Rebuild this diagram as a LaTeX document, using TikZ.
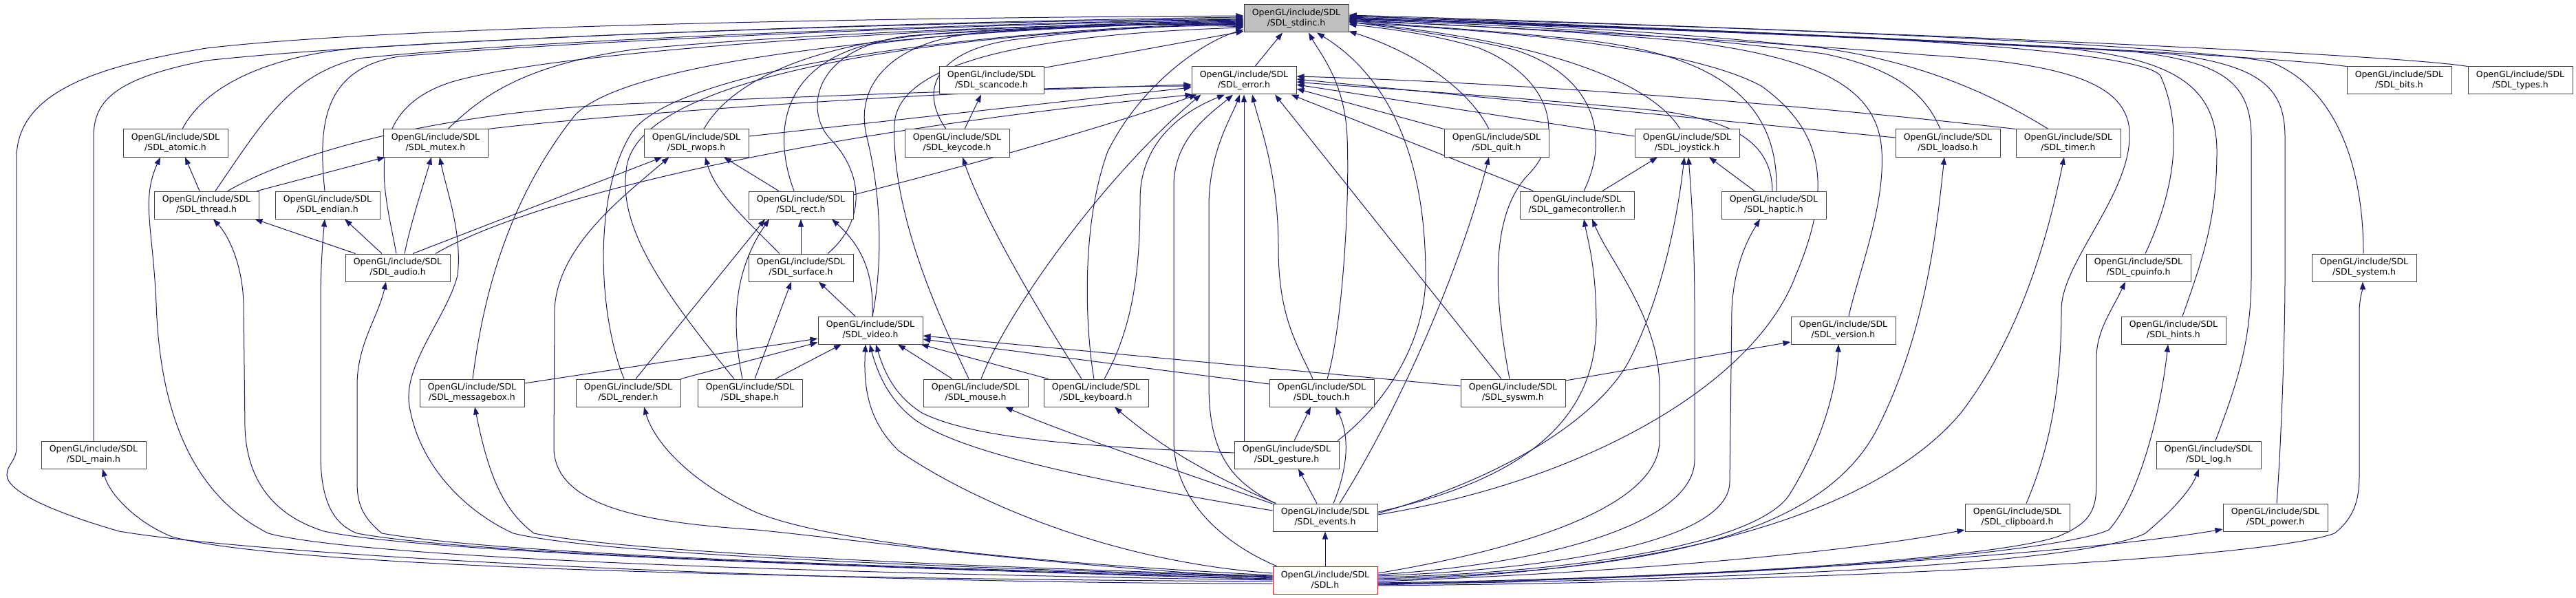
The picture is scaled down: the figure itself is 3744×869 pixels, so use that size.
\documentclass[tikz,border=0pt]{standalone}
\usepackage{fontspec}
\newfontfamily\djv{DejaVu Sans}
\usetikzlibrary{arrows.meta,calc}
\pgfdeclarelayer{bg}
\pgfsetlayers{bg,main}
\definecolor{edgec}{HTML}{191970}
\definecolor{nodeb}{HTML}{404040}
\begin{document}
\begin{tikzpicture}[x=1pt,y=-1pt,
  box/.style={draw=nodeb,line width=1pt,fill=white,minimum width=152pt,minimum height=40pt,inner sep=0pt,align=center,font=\djv\fontsize{12.5}{15}\selectfont},
  e/.style={draw=edgec,line width=1pt,-{Triangle[length=11pt,width=8pt]}}]
\useasboundingbox (0,0) rectangle (3744,869);
\node[box,fill=black!25] (stdinc) at (1884,27) {OpenGL/include/SDL\\/SDL\_stdinc.h};
\node[box] (error) at (1808,117) {OpenGL/include/SDL\\/SDL\_error.h};
\node[box] (scancode) at (1441,117) {OpenGL/include/SDL\\/SDL\_scancode.h};
\node[box] (bits) at (3487,117) {OpenGL/include/SDL\\/SDL\_bits.h};
\node[box] (types) at (3663,117) {OpenGL/include/SDL\\/SDL\_types.h};
\node[box] (atomic) at (255,208) {OpenGL/include/SDL\\/SDL\_atomic.h};
\node[box] (mutex) at (633,208) {OpenGL/include/SDL\\/SDL\_mutex.h};
\node[box] (rwops) at (1012,208) {OpenGL/include/SDL\\/SDL\_rwops.h};
\node[box] (keycode) at (1391,208) {OpenGL/include/SDL\\/SDL\_keycode.h};
\node[box] (quit) at (2175,208) {OpenGL/include/SDL\\/SDL\_quit.h};
\node[box] (joystick) at (2452,208) {OpenGL/include/SDL\\/SDL\_joystick.h};
\node[box] (loadso) at (2831,208) {OpenGL/include/SDL\\/SDL\_loadso.h};
\node[box] (timer) at (3006,208) {OpenGL/include/SDL\\/SDL\_timer.h};
\node[box] (thread) at (300,298) {OpenGL/include/SDL\\/SDL\_thread.h};
\node[box] (endian) at (476,298) {OpenGL/include/SDL\\/SDL\_endian.h};
\node[box] (rect) at (1164,298) {OpenGL/include/SDL\\/SDL\_rect.h};
\node[box,minimum width=166pt] (gamecontroller) at (2292,298) {OpenGL/include/SDL\\/SDL\_gamecontroller.h};
\node[box] (haptic) at (2578,298) {OpenGL/include/SDL\\/SDL\_haptic.h};
\node[box] (audio) at (578,389) {OpenGL/include/SDL\\/SDL\_audio.h};
\node[box] (surface) at (1164,389) {OpenGL/include/SDL\\/SDL\_surface.h};
\node[box] (cpuinfo) at (3108,389) {OpenGL/include/SDL\\/SDL\_cpuinfo.h};
\node[box] (system) at (3436,389) {OpenGL/include/SDL\\/SDL\_system.h};
\node[box] (video) at (1265,480) {OpenGL/include/SDL\\/SDL\_video.h};
\node[box] (version) at (2679,480) {OpenGL/include/SDL\\/SDL\_version.h};
\node[box] (hints) at (3159,480) {OpenGL/include/SDL\\/SDL\_hints.h};
\node[box] (messagebox) at (686,571) {OpenGL/include/SDL\\/SDL\_messagebox.h};
\node[box] (render) at (913,571) {OpenGL/include/SDL\\/SDL\_render.h};
\node[box] (shape) at (1090,571) {OpenGL/include/SDL\\/SDL\_shape.h};
\node[box] (mouse) at (1418,571) {OpenGL/include/SDL\\/SDL\_mouse.h};
\node[box] (keyboard) at (1593,571) {OpenGL/include/SDL\\/SDL\_keyboard.h};
\node[box] (touch) at (1921,571) {OpenGL/include/SDL\\/SDL\_touch.h};
\node[box] (syswm) at (2199,571) {OpenGL/include/SDL\\/SDL\_syswm.h};
\node[box] (main) at (136,661) {OpenGL/include/SDL\\/SDL\_main.h};
\node[box] (gesture) at (1870,661) {OpenGL/include/SDL\\/SDL\_gesture.h};
\node[box] (log) at (3210,661) {OpenGL/include/SDL\\/SDL\_log.h};
\node[box] (events) at (1926,752) {OpenGL/include/SDL\\/SDL\_events.h};
\node[box] (clipboard) at (2932,752) {OpenGL/include/SDL\\/SDL\_clipboard.h};
\node[box] (power) at (3307,752) {OpenGL/include/SDL\\/SDL\_power.h};
\node[box,draw=red] (sdl) at (1926,843) {OpenGL/include/SDL\\/SDL.h};
\begin{pgfonlayer}{bg}
% ---- into stdinc, from the left
\draw[e] ($(sdl.west)+(0,5)$) .. controls (1200,848) and (400,810) .. (173,772) .. controls (80,745) and (10,715) .. (10,690) .. controls (10,675) and (24,670) .. (24,650) -- (24,230) .. controls (24,130) and (150,95) .. (300,70) .. controls (600,35) and (1400,25) .. ($(stdinc.west)+(0,-4)$);
\draw[e] (main.north) -- (136,200) .. controls (136,150) and (160,115) .. (300,88) .. controls (600,55) and (1400,30) .. ($(stdinc.west)+(0,-2)$);
\draw[e] ($(atomic.north)+(10,0)$) .. controls (300,120) and (400,80) .. (520,70) .. controls (900,45) and (1500,30) .. ($(stdinc.west)+(0,0)$);
\draw[e] ($(thread.north)+(13,0)$) .. controls (380,180) and (420,110) .. (520,85) .. controls (800,55) and (1500,32) .. ($(stdinc.west)+(0,1)$);
\draw[e] ($(endian.north)+(-4,0)$) .. controls (462,180) and (470,100) .. (580,82) .. controls (900,55) and (1500,33) .. ($(stdinc.west)+(0,2)$);
\draw[e] ($(audio.north)+(-2,0)$) .. controls (560,280) and (520,160) .. (660,118) .. controls (850,65) and (1500,35) .. ($(stdinc.west)+(0,3)$);
\draw[e] ($(mutex.north)+(18,0)$) .. controls (700,140) and (760,95) .. (920,72) .. controls (1200,45) and (1600,35) .. ($(stdinc.west)+(0,4)$);
\draw[e] ($(messagebox.north)+(1,0)$) .. controls (700,450) and (730,300) .. (836,167) .. controls (920,80) and (1400,40) .. ($(stdinc.west)+(0,5)$);
\draw[e] ($(render.north)+(-6,0)$) .. controls (870,460) and (860,280) .. (920,190) .. controls (990,100) and (1400,45) .. ($(stdinc.west)+(0,6)$);
\draw[e] ($(shape.north)+(-23,0)$) .. controls (960,420) and (900,330) .. (910,250) .. controls (915,120) and (1300,50) .. ($(stdinc.west)+(0,7)$);
\draw[e] ($(rwops.north)+(11,0)$) .. controls (1055,130) and (1150,70) .. (1350,50) .. controls (1550,38) and (1700,33) .. ($(stdinc.west)+(0,8)$);
\draw[e] ($(rect.north)+(-10,0)$) .. controls (1125,200) and (1130,100) .. (1260,65) .. controls (1450,40) and (1650,33) .. ($(stdinc.west)+(0,9)$);
\draw[e] ($(surface.north)+(39,0)$) .. controls (1260,320) and (1255,250) .. (1205,200) .. controls (1170,160) and (1180,70) .. (1320,52) .. controls (1500,38) and (1700,32) .. ($(stdinc.west)+(0,10)$);
\draw[e] ($(video.north)+(3,0)$) .. controls (1280,400) and (1285,300) .. (1260,200) .. controls (1240,120) and (1300,60) .. (1420,48) .. controls (1600,36) and (1720,32) .. ($(stdinc.west)+(0,11)$);
\draw[e] ($(keycode.north)+(-16,0)$) .. controls (1335,130) and (1360,75) .. (1470,58) .. controls (1600,42) and (1720,35) .. ($(stdinc.west)+(0,12)$);
\draw[e] ($(scancode.north east)+(0,2)$) -- ($(stdinc.south west)+(0,-2)$);
\draw[e] ($(mouse.north)+(-10,0)$) .. controls (1375,480) and (1295,320) .. (1300,180) .. controls (1305,90) and (1500,50) .. ($(stdinc.west)+(0,13)$);
\draw[e] ($(keyboard.north)+(-3,0)$) .. controls (1578,480) and (1570,330) .. (1610,220) .. controls (1660,120) and (1750,60) .. ($(stdinc.west)+(0,16)$);
% ---- into stdinc, from below and right
\draw[e] ($(error.north)+(16,0)$) -- ($(stdinc.south)+(-20,0)$);
\draw[e] ($(touch.north)+(8,0)$) .. controls (1950,480) and (1962,300) .. (1958,200) .. controls (1955,120) and (1920,80) .. ($(stdinc.south)+(18,0)$);
\draw[e] ($(gesture.north)+(74,0)$) .. controls (2010,590) and (2072,500) .. (2072,400) .. controls (2072,200) and (2000,100) .. ($(stdinc.south)+(30,0)$);
\draw[e] ($(quit.north)+(-11,0)$) .. controls (2130,120) and (2040,70) .. ($(stdinc.south east)+(0,-2)$);
\draw[e] ($(events.east)+(0,-4)$) .. controls (2300,700) and (2550,560) .. (2610,400) .. controls (2665,270) and (2650,190) .. (2560,125) .. controls (2440,60) and (2100,40) .. ($(stdinc.east)+(0,6)$);
\draw[e] ($(joystick.north)+(-10,0)$) .. controls (2400,120) and (2250,60) .. ($(stdinc.east)+(0,5)$);
\draw[e] ($(gamecontroller.north)+(10,0)$) .. controls (2340,200) and (2320,110) .. (2200,72) .. controls (2100,48) and (2000,38) .. ($(stdinc.east)+(0,4)$);
\draw[e] ($(haptic.north)+(4,0)$) .. controls (2585,150) and (2500,80) .. (2300,58) .. controls (2150,42) and (2000,34) .. ($(stdinc.east)+(0,3)$);
\draw[e] ($(syswm.north)+(-5,0)$) .. controls (2175,450) and (2160,320) .. (2220,255) .. controls (2280,195) and (2250,110) .. (2150,70) .. controls (2080,48) and (2000,40) .. ($(stdinc.east)+(0,8)$);
\draw[e] ($(loadso.north)+(-11,0)$) .. controls (2800,140) and (2760,100) .. (2650,78) .. controls (2400,45) and (2100,32) .. ($(stdinc.east)+(0,2)$);
\draw[e] ($(timer.north)+(-29,0)$) .. controls (2900,140) and (2800,92) .. (2650,70) .. controls (2400,42) and (2100,30) .. ($(stdinc.east)+(0,1)$);
\draw[e] ($(version.north)+(8,0)$) .. controls (2700,400) and (2740,300) .. (2735,220) .. controls (2730,130) and (2650,85) .. (2450,60) .. controls (2250,42) and (2050,33) .. ($(stdinc.east)+(0,4)$);
\draw[e] ($(cpuinfo.north)+(10,0)$) .. controls (3150,300) and (3180,200) .. (3140,110) .. controls (3100,60) and (2400,40) .. ($(stdinc.east)+(0,0)$);
\draw[e] ($(hints.north)+(13,0)$) .. controls (3200,380) and (3222,320) .. (3222,220) .. controls (3222,120) and (3150,85) .. (3000,70) .. controls (2600,48) and (2100,32) .. ($(stdinc.east)+(0,0)$);
\draw[e] ($(log.north)+(10,0)$) .. controls (3250,560) and (3272,500) .. (3272,400) -- (3272,200) .. controls (3272,120) and (3230,90) .. (3100,75) .. controls (2700,50) and (2100,32) .. ($(stdinc.east)+(0,-1)$);
\draw[e] ($(power.north)+(2,0)$) .. controls (3315,650) and (3321,500) .. (3321,400) -- (3321,200) .. controls (3321,130) and (3290,95) .. (3150,78) .. controls (2700,50) and (2100,30) .. ($(stdinc.east)+(0,-2)$);
\draw[e] ($(system.north)+(-1,0)$) .. controls (3435,250) and (3400,130) .. (3300,90) .. controls (3100,55) and (2200,30) .. ($(stdinc.east)+(0,-3)$);
\draw[e] (bits.north west) .. controls (3250,75) and (2400,40) .. ($(stdinc.east)+(0,-4)$);
\draw[e] (types.north west) .. controls (3450,75) and (2500,38) .. ($(stdinc.east)+(0,-5)$);
\draw[e] ($(clipboard.north)+(13,0)$) .. controls (2980,650) and (2996,560) .. (2996,450) .. controls (2996,380) and (3100,280) .. (3095,190) .. controls (3090,120) and (3000,92) .. (2800,80) .. controls (2500,55) and (2100,36) .. ($(stdinc.east)+(0,2)$);
% ---- into error
\draw[e] ($(rwops.east)+(0,-10)$) -- ($(error.west)+(0,10)$);
\draw[e] (mutex.north east) .. controls (850,170) and (1300,135) .. ($(error.west)+(0,6)$);
\draw[e] ($(thread.north)+(31,0)$) .. controls (430,220) and (650,160) .. (936,150) .. controls (1300,135) and (1600,125) .. ($(error.west)+(0,8)$);
\draw[e] ($(audio.north)+(55,0)$) .. controls (750,300) and (1100,200) .. ($(error.south west)+(2,0)$);
\draw[e] ($(rect.east)+(0,-15)$) .. controls (1450,230) and (1650,170) .. ($(error.south west)+(8,0)$);
\draw[e] ($(mouse.north)+(8,0)$) .. controls (1460,460) and (1600,260) .. ($(error.south west)+(14,0)$);
\draw[e] ($(keyboard.north)+(12,0)$) .. controls (1650,470) and (1657,380) .. (1657,290) .. controls (1657,220) and (1700,170) .. ($(error.south)+(-28,0)$);
\draw[e] ($(sdl.north west)+(6,0)$) .. controls (1800,800) and (1706,740) .. (1706,640) -- (1706,270) .. controls (1706,200) and (1760,165) .. ($(error.south)+(-16,0)$);
\draw[e] ($(events.north west)+(4,0)$) .. controls (1790,700) and (1757,660) .. (1757,560) -- (1757,300) .. controls (1757,220) and (1790,170) .. ($(error.south)+(-6,0)$);
\draw[e] ($(gesture.north)+(-62,0)$) -- (error.south);
\draw[e] ($(touch.north)+(-13,0)$) .. controls (1885,500) and (1858,460) .. (1858,360) .. controls (1858,250) and (1830,180) .. ($(error.south)+(12,0)$);
\draw[e] ($(syswm.north)+(-17,0)$) -- ($(error.south)+(45,0)$);
\draw[e] ($(gamecontroller.north west)+(20,0)$) -- ($(error.south east)+(-8,0)$);
\draw[e] (quit.north west) -- ($(error.east)+(0,12)$);
\draw[e] ($(joystick.west)+(0,-10)$) -- ($(error.east)+(0,6)$);
\draw[e] ($(haptic.north)+(-2,0)$) .. controls (2575,220) and (2540,180) .. (2420,162) .. controls (2200,140) and (1950,125) .. ($(error.east)+(0,2)$);
\draw[e] ($(loadso.west)+(0,-8)$) -- ($(error.east)+(0,-2)$);
\draw[e] (timer.north west) .. controls (2600,150) and (2200,120) .. ($(error.east)+(0,-6)$);
% ---- other edges
\draw[e] ($(keycode.north)+(11,0)$) -- ($(scancode.south)+(-15,0)$);
\draw[e] ($(keyboard.north)+(-21,0)$) .. controls (1520,470) and (1430,320) .. ($(keycode.south)+(8,0)$);
\draw[e] ($(keyboard.north west)+(7,0)$) -- ($(video.south east)+(-3,0)$);
\draw[e] ($(mouse.north)+(-34,0)$) -- ($(video.south)+(40,0)$);
\draw[e] ($(shape.north)+(37,0)$) -- ($(video.south)+(-42,0)$);
\draw[e] (render.north east) -- ($(video.south west)+(0,-3)$);
\draw[e] ($(messagebox.east)+(0,-14)$) -- ($(video.west)+(0,12)$);
\draw[e] ($(render.north)+(11,0)$) -- ($(rect.south)+(-52,0)$);
\draw[e] ($(shape.north)+(-11,0)$) .. controls (1065,480) and (1062,400) .. ($(rect.south)+(-46,0)$);
\draw[e] ($(shape.north)+(7,0)$) -- ($(surface.south)+(-14,0)$);
\draw[e] ($(video.north)+(-22,0)$) -- ($(surface.south)+(26,0)$);
\draw[e] ($(video.north)+(3,0)$) .. controls (1270,400) and (1255,360) .. ($(rect.south)+(45,0)$);
\draw[e] (surface.north) -- (rect.south);
\draw[e] ($(surface.north)+(-31,0)$) .. controls (1085,320) and (1040,280) .. ($(rwops.south)+(13,0)$);
\draw[e] ($(rect.north)+(-32,0)$) -- ($(rwops.south)+(40,0)$);
\draw[e] ($(audio.north)+(22,0)$) -- ($(rwops.south west)+(27,0)$);
\draw[e] ($(sdl.west)+(0,-3)$) .. controls (1500,820) and (1250,785) .. (1100,770) .. controls (950,760) and (805,740) .. (805,650) -- (806,450) .. controls (810,360) and (900,290) .. ($(rwops.south west)+(37,0)$);
\draw[e] ($(audio.north west)+(15,0)$) -- ($(thread.south east)+(-6,0)$);
\draw[e] ($(audio.north)+(-23,0)$) -- ($(endian.south)+(25,0)$);
\draw[e] ($(audio.north)+(10,0)$) .. controls (598,320) and (615,270) .. ($(mutex.south)+(-6,0)$);
\draw[e] ($(thread.north east)+(-3,0)$) -- ($(mutex.south west)+(3,0)$);
\draw[e] ($(thread.north)+(-10,0)$) -- ($(atomic.south)+(14,0)$);
\draw[e] (sdl.west) .. controls (1000,830) and (500,805) .. (390,775) .. controls (280,720) and (232,600) .. (227,440) .. controls (222,330) and (205,290) .. ($(atomic.south)+(-22,0)$);
\draw[e] ($(sdl.west)+(0,-1)$) .. controls (1100,820) and (600,800) .. (471,772) .. controls (400,750) and (358,700) .. (356,620) -- (354,440) .. controls (352,380) and (330,340) .. ($(thread.south)+(10,0)$);
\draw[e] ($(sdl.west)+(0,-2)$) .. controls (1100,820) and (650,800) .. (519,775) .. controls (480,760) and (466,720) .. (466,660) -- (466,440) .. controls (466,380) and (470,340) .. ($(endian.south)+(-4,0)$);
\draw[e] ($(sdl.west)+(0,-4)$) .. controls (1100,820) and (700,800) .. (555,775) .. controls (525,750) and (519,730) .. (519,700) -- (519,560) .. controls (519,500) and (550,460) .. ($(audio.south)+(-17,0)$);
\draw[e] ($(sdl.west)+(0,-5)$) .. controls (1200,820) and (850,800) .. (746,775) .. controls (680,745) and (610,680) .. (595,590) .. controls (585,530) and (650,460) .. (665,400) .. controls (672,340) and (650,280) .. ($(mutex.south)+(6,0)$);
\draw[e] ($(sdl.west)+(0,2)$) .. controls (1000,840) and (400,820) .. (250,780) .. controls (200,760) and (160,720) .. ($(main.south)+(13,0)$);
\draw[e] ($(sdl.west)+(0,-6)$) .. controls (1300,820) and (900,800) .. (776,775) .. controls (730,740) and (710,690) .. ($(messagebox.south)+(4,0)$);
\draw[e] ($(sdl.west)+(0,-7)$) .. controls (1450,815) and (1200,785) .. (1100,745) .. controls (1000,700) and (950,640) .. ($(render.south)+(23,0)$);
\draw[e] ($(sdl.west)+(0,-10)$) .. controls (1600,815) and (1400,720) .. (1306,655) .. controls (1260,610) and (1255,560) .. ($(video.south)+(-7,0)$);
\draw[e] ($(events.west)+(0,-10)$) .. controls (1600,700) and (1400,660) .. (1330,610) .. controls (1290,580) and (1275,540) .. ($(video.south)+(-1,0)$);
\draw[e] ($(gesture.west)+(0,-3)$) .. controls (1600,650) and (1420,640) .. (1340,600) .. controls (1300,575) and (1285,540) .. ($(video.south)+(8,0)$);
\draw[e] ($(events.west)+(0,-20)$) .. controls (1700,680) and (1550,630) .. ($(mouse.south)+(43,0)$);
\draw[e] ($(events.north west)+(5,0)$) .. controls (1780,700) and (1700,660) .. ($(keyboard.south)+(27,0)$);
\draw[e] ($(touch.west)+(0,-13)$) -- ($(video.east)+(0,13)$);
\draw[e] ($(syswm.west)+(0,-10)$) -- ($(video.east)+(0,8)$);
\draw[e] ($(syswm.east)+(0,-18)$) -- ($(version.west)+(0,17)$);
\draw[e] ($(gesture.north)+(11,0)$) -- ($(touch.south)+(-16,0)$);
\draw[e] ($(events.north)+(12,0)$) .. controls (1955,690) and (1965,640) .. ($(touch.south)+(20,0)$);
\draw[e] ($(events.north)+(-12,0)$) -- ($(gesture.south)+(17,0)$);
\draw[e] ($(events.north)+(21,0)$) .. controls (2030,600) and (2120,400) .. ($(quit.south)+(-11,0)$);
\draw[e] ($(events.east)+(0,-8)$) .. controls (2200,700) and (2320,620) .. (2320,470) .. controls (2320,390) and (2308,350) .. ($(gamecontroller.south)+(10,0)$);
\draw[e] ($(events.east)+(0,-6)$) .. controls (2200,690) and (2330,600) .. (2370,520) .. controls (2420,420) and (2440,300) .. ($(joystick.south)+(-4,0)$);
\draw[e] ($(gamecontroller.north)+(37,0)$) -- ($(joystick.south)+(-43,0)$);
\draw[e] ($(haptic.north)+(-28,0)$) -- ($(joystick.south)+(32,0)$);
\draw[e] (sdl.north) -- (events.south);
\draw[e] ($(sdl.east)+(0,-10)$) .. controls (2200,800) and (2412,740) .. (2412,640) -- (2412,560) .. controls (2410,460) and (2340,380) .. ($(gamecontroller.south)+(22,0)$);
\draw[e] ($(sdl.east)+(0,-8)$) .. controls (2250,820) and (2463,760) .. (2463,668) -- (2463,450) .. controls (2463,350) and (2458,280) .. ($(joystick.south)+(2,0)$);
\draw[e] ($(sdl.east)+(0,-6)$) .. controls (2300,825) and (2514,780) .. (2514,700) -- (2517,450) .. controls (2520,380) and (2545,340) .. ($(haptic.south)+(-20,0)$);
\draw[e] ($(sdl.east)+(0,-4)$) .. controls (2350,830) and (2559,780) .. (2600,720) .. controls (2650,640) and (2670,560) .. ($(version.south)+(-7,0)$);
\draw[e] ($(sdl.east)+(0,-2)$) .. controls (2400,830) and (2650,780) .. (2730,620) .. controls (2800,480) and (2815,330) .. ($(loadso.south)+(-5,0)$);
\draw[e] (sdl.east) .. controls (2500,830) and (2750,720) .. (2850,600) .. controls (2950,470) and (2985,300) .. ($(timer.south)+(-6,0)$);
\draw[e] ($(sdl.east)+(0,2)$) .. controls (2400,830) and (2700,800) .. ($(clipboard.west)+(0,18)$);
\draw[e] ($(sdl.east)+(0,4)$) .. controls (2500,840) and (2900,810) .. (2990,780) .. controls (3040,760) and (3047,740) .. (3047,700) -- (3047,520) .. controls (3047,480) and (3070,450) .. ($(cpuinfo.south)+(-19,0)$);
\draw[e] ($(sdl.east)+(0,5)$) .. controls (2600,840) and (3000,800) .. (3065,770) .. controls (3110,720) and (3140,600) .. ($(hints.south)+(-8,0)$);
\draw[e] ($(sdl.east)+(0,6)$) .. controls (2700,840) and (3050,810) .. (3118,775) .. controls (3160,740) and (3185,710) .. ($(log.south)+(-14,0)$);
\draw[e] ($(sdl.east)+(0,7)$) .. controls (2600,835) and (3050,800) .. ($(power.west)+(0,17)$);
\draw[e] ($(sdl.east)+(0,8)$) .. controls (2700,845) and (3300,810) .. (3393,775) .. controls (3425,750) and (3429,720) .. (3429,690) -- (3429,450) .. controls (3430,430) and (3434,420) .. ($(system.south)+(-2,0)$);
\end{pgfonlayer}
\end{tikzpicture}
\end{document}
